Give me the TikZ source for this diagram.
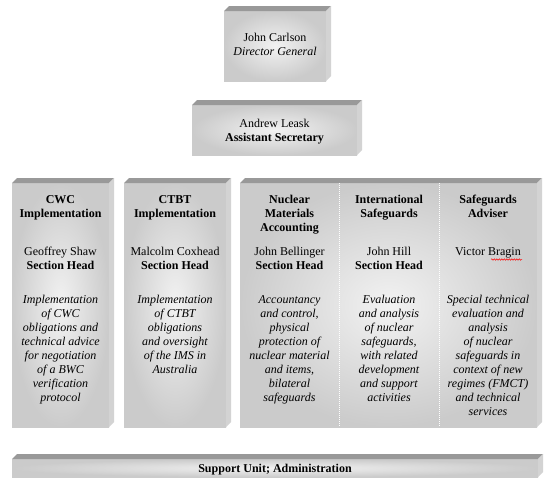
\documentclass[tikz,border=0pt]{standalone}
\usepackage{fontspec}
\setmainfont{Liberation Serif}
\usetikzlibrary{decorations.pathmorphing}
\definecolor{facein}{HTML}{F2F2F2}
\definecolor{faceout}{HTML}{CBCBCB}
\definecolor{topface}{HTML}{999999}
\definecolor{sideface}{HTML}{D3D3D3}
\tikzset{
  face/.style={rectangle, draw=none, inner sep=0pt, outer sep=0pt, shading=radial, inner color=facein, outer color=faceout},
  txt/.style={anchor=north, inner sep=0pt, outer sep=0pt, align=center, font=\fontsize{12}{14}\selectfont},
  sepline/.style={white, line width=1pt, dash pattern=on 1pt off 1pt},
}
\newcommand\bevel[1]{%
  \fill[topface] (#1.north west) -- ++(5,-5) -- ([shift={(5,-5)}]#1.north east) -- (#1.north east) -- cycle;
  \fill[sideface] (#1.north east) -- ++(5,-5) -- ([shift={(5,-5)}]#1.south east) -- (#1.south east) -- cycle;
}
\begin{document}
\begin{tikzpicture}[x=1pt,y=-1pt]
\useasboundingbox[fill=white] (0,0) rectangle (554,496);
% boxes
\node[face, minimum width=102pt, minimum height=70pt] (dg) at (275,46) {};
\node[face, minimum width=165pt, minimum height=50pt] (as) at (274.5,130) {};
\node[face, minimum width=97pt, minimum height=244pt] (cwc) at (60.5,305) {};
\node[face, minimum width=102pt, minimum height=244pt] (ctbt) at (175,305) {};
\node[face, minimum width=297pt, minimum height=244pt] (big) at (388.5,305) {};
\node[face, minimum width=526pt, minimum height=18pt] (sup) at (275,468) {};
\bevel{dg}\bevel{as}\bevel{cwc}\bevel{ctbt}\bevel{big}\bevel{sup}
% separators
\coordinate (s1t) at (339,183); \coordinate (s1b) at (339,427);
\coordinate (s2t) at (439,183); \coordinate (s2b) at (439,427);
\draw[sepline] (s1t) -- (s1b);
\draw[sepline] (s2t) -- (s2b);
% top texts
\node[txt] (dgt) at (275,31.2) {\strut John Carlson\\\textit{Director General}};
\node[txt] (ast) at (274.5,117.2) {\strut Andrew Leask\\\textbf{Assistant Secretary}};
% headings
\node[txt, font=\fontsize{12}{14}\selectfont\bfseries] (cwch) at (60.5,193.2) {\strut CWC\\Implementation};
\node[txt, font=\fontsize{12}{14}\selectfont\bfseries] (ctbth) at (175,193.2) {\strut CTBT\\Implementation};
\node[txt, font=\fontsize{12}{14}\selectfont\bfseries] (nmah) at (289.5,193.2) {\strut Nuclear\\Materials\\Accounting};
\node[txt, font=\fontsize{12}{14}\selectfont\bfseries] (ish) at (389,193.2) {\strut International\\Safeguards};
\node[txt, font=\fontsize{12}{14}\selectfont\bfseries] (sah) at (488,193.2) {\strut Safeguards\\Adviser};
% names
\node[txt] (cwcn) at (60.5,245.2) {\strut Geoffrey Shaw\\\textbf{Section Head}};
\node[txt] (ctbtn) at (175,245.2) {\strut Malcolm Coxhead\\\textbf{Section Head}};
\node[txt] (nman) at (289.5,245.2) {\strut John Bellinger\\\textbf{Section Head}};
\node[txt] (isn) at (389,245.2) {\strut John Hill\\\textbf{Section Head}};
\node[txt] (san) at (488,245.2) {\strut Victor Bragin};
\coordinate (sqa) at (491,259.5); \coordinate (sqb) at (522,259.5);
\draw[red, line width=0.5pt, decorate, decoration={snake, amplitude=0.7pt, segment length=2.5pt}] (sqa) -- (sqb);
% descriptions
\node[txt, font=\fontsize{12}{14}\selectfont\itshape] (cwcd) at (60.5,293.2) {\strut Implementation\\of CWC\\obligations and\\technical advice\\for negotiation\\of a BWC\\verification\\protocol};
\node[txt, font=\fontsize{12}{14}\selectfont\itshape] (ctbtd) at (175,293.2) {\strut Implementation\\of CTBT\\obligations\\and oversight\\of the IMS in\\Australia};
\node[txt, font=\fontsize{12}{14}\selectfont\itshape] (nmad) at (289.5,293.2) {\strut Accountancy\\and control,\\physical\\protection of\\nuclear material\\and items,\\bilateral\\safeguards};
\node[txt, font=\fontsize{12}{14}\selectfont\itshape] (isd) at (389,293.2) {\strut Evaluation\\and analysis\\of nuclear\\safeguards,\\with related\\development\\and support\\activities};
\node[txt, font=\fontsize{12}{14}\selectfont\itshape] (sad) at (488,293.2) {\strut Special technical\\evaluation and\\analysis\\of nuclear\\safeguards in\\context of new\\regimes (FMCT)\\and technical\\services};
% support
\node[txt, anchor=base, font=\fontsize{12}{14}\selectfont\bfseries] (supt) at (275,472) {Support Unit; Administration};
\end{tikzpicture}
\end{document}
